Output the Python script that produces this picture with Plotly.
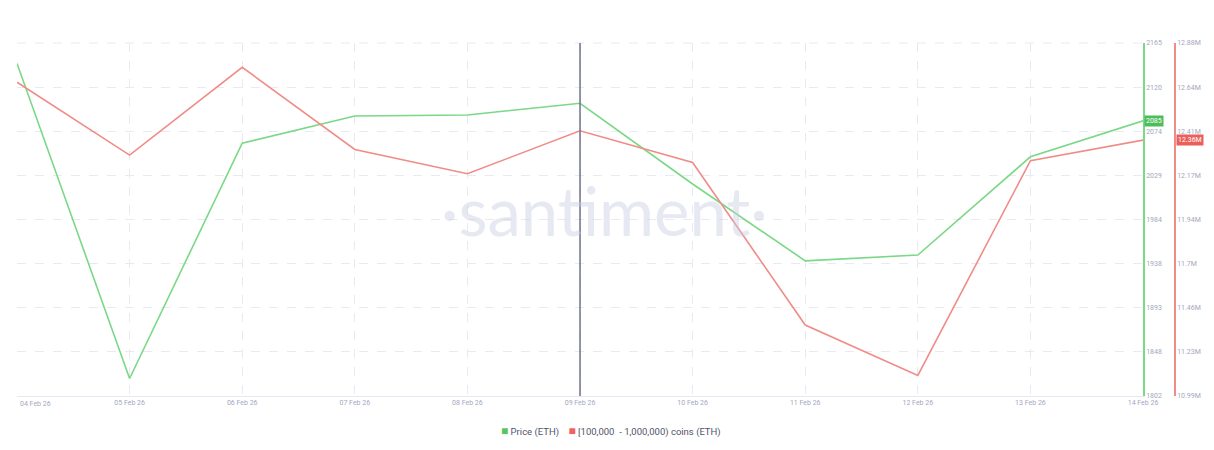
import plotly.graph_objects as go

# dates (Feb 2026)
fechas = ["2026-02-04", "2026-02-05", "2026-02-06", "2026-02-07", "2026-02-08", "2026-02-09",
          "2026-02-10", "2026-02-11", "2026-02-12", "2026-02-13", "2026-02-14"]

# ETH price
precio = [2144, 1820, 2062, 2090, 2091, 2103, 2020, 1941, 1947, 2048, 2085]

# supply held by addresses with 100k - 1M coins (millions of ETH)
monedas = [12.67, 12.28, 12.75, 12.31, 12.18, 12.41, 12.24, 11.37, 11.10, 12.25, 12.36]

precio_ticks = [1802, 1847.4, 1892.8, 1938.1, 1983.5, 2028.9, 2074.3, 2119.6, 2165]
precio_labels = ["1802", "1848", "1893", "1938", "1984", "2029", "2074", "2120", "2165"]
monedas_ticks = [10.99, 11.226, 11.463, 11.699, 11.935, 12.171, 12.408, 12.644, 12.88]
monedas_labels = ["10.99M", "11.23M", "11.46M", "11.7M", "11.94M", "12.17M", "12.41M", "12.64M", "12.88M"]
fecha_labels = ["04 Feb 26", "05 Feb 26", "06 Feb 26", "07 Feb 26", "08 Feb 26", "09 Feb 26",
                "10 Feb 26", "11 Feb 26", "12 Feb 26", "13 Feb 26", "14 Feb 26"]

verde = "#7ad886"
rojo = "#f08c87"
gris_txt = "#a3a8c0"
grid = "#e9eaf1"
fuente = "Roboto"

fig = go.Figure()

fig.add_trace(go.Scatter(x=fechas, y=precio, mode="lines", line=dict(color=verde, width=1.6),
                         showlegend=False, hoverinfo="skip"))
fig.add_trace(go.Scatter(x=fechas, y=monedas, mode="lines", line=dict(color=rojo, width=1.6),
                         yaxis="y2", showlegend=False, hoverinfo="skip"))

# top dashed grid line
fig.add_shape(type="line", xref="paper", yref="paper", x0=0, x1=0.9724, y0=1, y1=1,
              line=dict(color=grid, width=1, dash="dash"), layer="below")

# vertical marker line at 09 Feb
fig.add_shape(type="line", xref="x", yref="paper", x0="2026-02-09", x1="2026-02-09", y0=0, y1=1,
              line=dict(color="#6e7288", width=1.5))

# watermark
fig.add_annotation(xref="paper", yref="paper", x=0.507, y=0.527, text="·santiment·", showarrow=False,
                   font=dict(family="Lato", size=67, color="rgba(200,204,226,0.45)", weight=400))

# first date label sits inside the plot edge
fig.add_annotation(xref="x", yref="paper", x=fechas[0], y=0, yshift=-2, text=fecha_labels[0],
                   showarrow=False, xanchor="left", yanchor="top", xshift=1,
                   font=dict(family=fuente, size=7, color=gris_txt))

# last value labels
fig.add_annotation(xref="paper", yref="y", x=0.9735, y=precio[-1], text=str(precio[-1]),
                   showarrow=False, xanchor="left", bgcolor="#4dbd59", borderpad=1,
                   font=dict(family=fuente, size=7, color="white"))
fig.add_annotation(xref="paper", yref="y2", x=1.001, y=monedas[-1], text=f"{monedas[-1]:.2f}M",
                   showarrow=False, xanchor="left", bgcolor="#eb5f5a", borderpad=1,
                   font=dict(family=fuente, size=7, color="white"))

# legend as text with square swatches
fig.add_annotation(
    xref="paper", yref="paper", x=0.513, y=-0.075, yanchor="top", showarrow=False,
    text="<span style='color:#56c75f;font-size:12px'>■</span> Price (ETH)    "
         "<span style='color:#f0625c;font-size:12px'>■</span> [100,000  - 1,000,000) coins (ETH)",
    font=dict(family=fuente, size=9.5, color="#50546a"),
)

fig.update_layout(
    width=1206, height=442,
    margin=dict(l=9, r=39, t=35, b=54),
    plot_bgcolor="white", paper_bgcolor="white",
    showlegend=False,
    font=dict(family=fuente, size=7, color=gris_txt),
    xaxis=dict(
        type="date", domain=[0, 0.9724], automargin=False,
        range=["2026-02-04", "2026-02-14"],
        tickvals=fechas[1:], ticktext=fecha_labels[1:],
        showgrid=True, gridcolor=grid, griddash="dash", gridwidth=1,
        showline=True, linecolor="#e6e7f0", linewidth=1,
        ticks="", tickfont=dict(size=7, color=gris_txt), zeroline=False,
    ),
    yaxis=dict(
        side="right", range=[1802, 2165], automargin=False,
        tickvals=precio_ticks, ticktext=precio_labels,
        showgrid=True, gridcolor=grid, griddash="dash", gridwidth=1,
        showline=True, linecolor=verde, linewidth=1.5,
        ticks="", tickfont=dict(size=7, color=gris_txt), zeroline=False,
    ),
    yaxis2=dict(
        overlaying="y", side="right", anchor="free", position=1.0, automargin=False,
        range=[10.99, 12.88],
        tickvals=monedas_ticks, ticktext=monedas_labels,
        showgrid=False, showline=True, linecolor=rojo, linewidth=1.5,
        ticks="", tickfont=dict(size=7, color=gris_txt), zeroline=False,
    ),
)

fig.write_html("out.html")
